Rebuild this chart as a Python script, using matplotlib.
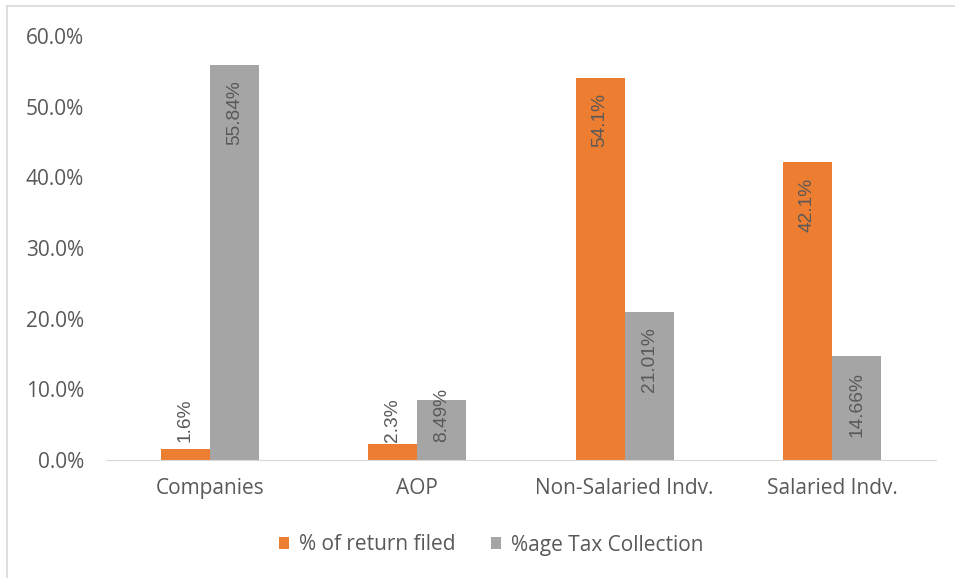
import numpy as np
import matplotlib.pyplot as plt
from matplotlib.lines import Line2D

# data
categories = ['Companies', 'AOP', 'Non-Salaried Indv.', 'Salaried Indv.']
returns_filed = [1.6, 2.3, 54.1, 42.1]
tax_collection = [55.84, 8.49, 21.01, 14.66]
returns_labels = ['1.6%', '2.3%', '54.1%', '42.1%']
tax_labels = ['55.84%', '8.49%', '21.01%', '14.66%']
yticks = [0, 10, 20, 30, 40, 50, 60]

orange = '#ED7D31'
grey = '#A5A5A5'
txt = '#595959'

plt.rcParams['font.family'] = ['Open Sans', 'DejaVu Sans']

fig = plt.figure(figsize=(9.55, 5.78), dpi=100)
ax = fig.add_axes([106.3 / 955, (578 - 460) / 578, (935.7 - 106.3) / 955, (460 - 36) / 578])

x = np.arange(len(categories))
w = 0.237
b1 = ax.bar(x - w / 2, returns_filed, w, color=orange, label='% of return filed')
b2 = ax.bar(x + w / 2, tax_collection, w, color=grey, label='%age Tax Collection')

# rotated data labels, inside end for tall bars, near base for short ones
for bars, labs in ((b1, returns_labels), (b2, tax_labels)):
    for r, lab in zip(bars, labs):
        cx = r.get_x() + r.get_width() / 2
        h = r.get_height()
        if h > 10:
            ax.annotate(lab, (cx, h), xytext=(0, -11), textcoords='offset points',
                        rotation=90, ha='center', va='top', color=txt, fontsize=13.8,
                        family='Liberation Sans')
        else:
            ax.annotate(lab, (cx, 0), xytext=(0, 13), textcoords='offset points',
                        rotation=90, ha='center', va='bottom', color=txt, fontsize=13.8,
                        family='Liberation Sans')

ax.set_xlim(-0.5, len(categories) - 0.5)
ax.set_ylim(0, 60)
ax.set_yticks(yticks)
ax.set_yticklabels(['%.1f%%' % v for v in yticks])
ax.set_xticks(x)
ax.set_xticklabels(categories)
ax.tick_params(axis='both', length=0, colors=txt, labelsize=15)
ax.tick_params(axis='y', pad=16)
ax.tick_params(axis='x', pad=13)
for s in ['top', 'right', 'left']:
    ax.spines[s].set_visible(False)
ax.spines['bottom'].set_color('#D9D9D9')

leg = fig.legend(handles=[b1, b2], loc='center', bbox_to_anchor=(491 / 955, 1 - 545 / 578),
                 ncol=2, frameon=False, fontsize=15, handlelength=0.5, handleheight=0.5,
                 handletextpad=0.45, columnspacing=1.7)
for t in leg.get_texts():
    t.set_color(txt)

# light border of the chart area
fig.add_artist(Line2D([7 / 955, 1], [1 - 6 / 578, 1 - 6 / 578], color='#D9D9D9', lw=1.2))
fig.add_artist(Line2D([7 / 955, 7 / 955], [0, 1 - 6 / 578], color='#D9D9D9', lw=1.2))

fig.savefig('out.png', dpi=100)
